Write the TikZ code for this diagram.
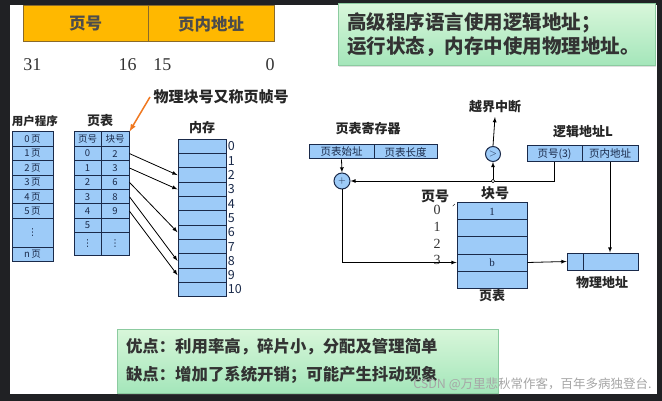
\documentclass[tikz,border=0pt]{standalone}
\usepackage{fontspec}
\setmainfont{Noto Sans CJK SC}
\newfontfamily\tms{Liberation Serif}
\newfontfamily\dejavu{DejaVu Sans}
\usetikzlibrary{shadows}
\definecolor{frame}{HTML}{202124}
\definecolor{cellblue}{HTML}{9DCBF8}
\definecolor{navy}{HTML}{1A2A4A}
\definecolor{boxorange}{HTML}{FFB800}
\definecolor{boxbrown}{HTML}{8A6A2A}
\definecolor{greenhi}{HTML}{D8F6DA}
\definecolor{greenlo}{HTML}{A4E6BA}
\definecolor{greenedge}{HTML}{8CCBA0}
\definecolor{arrowred}{HTML}{F07820}

\newcommand{\vdotsglyph}{{\dejavu ⋮}}

\tikzset{
  cell/.style={draw=navy, fill=cellblue, line width=1pt, inner sep=0pt, text=navy,
    font=\fontsize{9.5}{9.5}\selectfont},
  title/.style={font=\fontsize{13}{13}\selectfont\bfseries, text=black!85},
  hdr/.style={draw=boxbrown, fill=boxorange, line width=1pt, minimum height=36pt,
    font=\fontsize{16.5}{16.5}\selectfont\bfseries, text=black!70},
  note/.style={draw=greenedge, line width=0.8pt, top color=greenhi, bottom color=greenlo,
    drop shadow={opacity=0.25, shadow xshift=1pt, shadow yshift=-2pt},
    inner sep=9pt, align=left, text=black!80},
  opcirc/.style={circle, draw=navy, fill=cellblue, line width=1pt, inner sep=0pt,
    minimum size=15pt, text=navy},
  bitnum/.style={inner sep=0pt, font=\tms\fontsize{18}{18}\selectfont, text=black!80},
  memnum/.style={inner sep=1pt, font=\fontsize{12.5}{12.5}\selectfont, text=navy},
  rownum/.style={inner sep=0pt, font=\tms\fontsize{14}{14}\selectfont, text=black!80},
}

\begin{document}
\begin{tikzpicture}[x=1pt, y=-1pt, >=latex, thick]

% Rahmen des Bildschirmfotos
\fill[frame] (0,0) rectangle (662,401);
\fill[white] (10,5) rectangle (657,394);
\useasboundingbox (0,0) rectangle (662,401);

% logische Adresse mit Bitpositionen
\node[hdr, minimum width=125pt] (pgno) at (85.5,24) {页号};
\node[hdr, minimum width=126pt] (pgoff) at (211,24) {页内地址};
\node[bitnum, anchor=west] (b31) at (23,65) {31};
\node[bitnum, anchor=east] (b16) at (137,65) {16};
\node[bitnum, anchor=west] (b15) at (153,65) {15};
\node[bitnum, anchor=east] (b0) at (275,65) {0};

% Hinweise in gruenen Kaesten
\node[note, minimum width=317pt, minimum height=55pt, text width=299pt,
  font=\fontsize{19.5}{24}\selectfont\bfseries] (hint) at (496.5,34.5)
  {高级程序语言使用逻辑地址；\\运行状态，内存中使用物理地址。};
\node[note, minimum width=381pt, minimum height=64pt, text width=363pt,
  font=\fontsize{16.4}{28}\selectfont\bfseries] (proscons) at (307.5,361)
  {优点：利用率高，碎片小，分配及管理简单\\缺点：增加了系统开销；可能产生抖动现象};

% Benutzerprogramm
\node[title, font=\fontsize{11.5}{11.5}\selectfont\bfseries] (upl) at (35,121) {用户程序};
\foreach \i in {0,...,5}
  \node[cell, minimum width=41pt, minimum height=14.4pt] (up\i) at (32.5,{139.2+14.4*\i}) {\i\,页};
\node[cell, minimum width=41pt, minimum height=28.8pt] (updots) at (32.5,232.8) {\vdotsglyph};
\node[cell, minimum width=41pt, minimum height=14.4pt] (upn) at (32.5,254.4) {n\,页};

% Seitentabelle
\node[title] (ptl) at (100,121) {页表};
\node[cell, minimum width=27pt, minimum height=14.4pt] (pth1) at (87.5,139.2) {页号};
\node[cell, minimum width=28pt, minimum height=14.4pt] (pth2) at (115,139.2) {块号};
\foreach \i/\b in {0/2,1/3,2/6,3/8,4/9,5/{}} {
  \node[cell, minimum width=27pt, minimum height=14.4pt] (ptp\i) at (87.5,{153.6+14.4*\i}) {\i};
  \node[cell, minimum width=28pt, minimum height=14.4pt] (ptb\i) at (115,{153.6+14.4*\i}) {\b};
}
\node[cell, minimum width=27pt, minimum height=22.2pt] (ptpdots) at (87.5,243.9) {\vdotsglyph};
\node[cell, minimum width=28pt, minimum height=22.2pt] (ptbdots) at (115,243.9) {\vdotsglyph};

% Hauptspeicher
\node[title] (meml) at (202,128) {内存};
\foreach \i in {0,...,10} {
  \node[cell, minimum width=48pt, minimum height=14.3pt] (mem\i) at (202,{146.45+14.3*\i}) {};
  \node[memnum, anchor=west] (memn\i) at (mem\i.east) {\i};
}

% Zuordnung Seite -> Block
\foreach \i/\b in {0/2,1/3,2/6,3/8,4/9}
  \draw[->, line width=0.8pt] (ptb\i.east) -- (mem\b.west);

% Anmerkung zur Blocknummer
\node[title, anchor=west, font=\fontsize{15}{15}\selectfont\bfseries] (frameno) at (150,97) {物理块号又称页帧号};
\draw[->, arrowred, line width=1.5pt] (frameno.west) -- (pth2.north east);

% Adressumsetzung rechts
\node[title] (oob) at (495,107) {越界中断};
\node[title] (regl) at (368,129) {页表寄存器};
\node[cell, minimum width=65pt, minimum height=14pt, font=\fontsize{10.5}{10.5}\selectfont] (reg1) at (341.5,152) {页表始址};
\node[cell, minimum width=63pt, minimum height=14pt, font=\fontsize{10.5}{10.5}\selectfont] (reg2) at (405.5,152) {页表长度};
\node[opcirc] (cmp) at (493,154) {$>$};
\node[title] (lal) at (583,132) {逻辑地址L};
\node[cell, minimum width=55pt, minimum height=16pt, font=\fontsize{10.5}{10.5}\selectfont] (lpn) at (554.5,154) {页号(3)};
\node[cell, minimum width=56pt, minimum height=16pt, font=\fontsize{10.5}{10.5}\selectfont] (loff) at (610,154) {页内地址};
\node[opcirc, minimum size=16pt] (plus) at (342,181) {$+$};
\coordinate (junc) at (493,181);

\node[title, font=\fontsize{14}{14}\selectfont\bfseries] (pnl) at (435,196) {页号};
\node[title, font=\fontsize{14}{14}\selectfont\bfseries] (bnl) at (495,193) {块号};
\foreach \i/\t in {0/1,1/{},2/{},3/b,4/{}}
  \node[cell, minimum width=70pt, minimum height=17pt, font=\tms\fontsize{11}{11}\selectfont]
    (rpt\i) at (492,{211.5+17*\i}) {\t};
\foreach \i in {0,...,3}
  \node[rownum] (rpn\i) at (437,{210+16.8*\i}) {\i};
\draw[dashed, thin] (pnl.south east) -- (rpt0.north west);
\node[title] (rptl) at (492,296) {页表};

\node[cell, minimum width=16pt, minimum height=17pt] (pa1) at (575,261.5) {};
\node[cell, minimum width=55pt, minimum height=17pt] (pa2) at (610.5,261.5) {};
\node[title] (pal) at (602,283) {物理地址};

% Verbindungen
\draw[->] (reg1.south) -- (plus.north);
\draw[->] (lpn.south) |- (plus.east);
\draw[->] (junc) -- (cmp.south);
\draw[->] (cmp.north) -- (oob.south);
\draw[->] (plus.south) |- (rpt3.west);
\draw[->] (rpt3.east) -- (pa1.west);
\draw[->] (loff.south) -- (loff.south |- pa2.north);
\node[circle, draw, fill=white, inner sep=0pt, minimum size=3.5pt, line width=0.6pt] (juncdot) at (junc) {};

% Wasserzeichen
\node[anchor=east, inner sep=0pt, text=black!35, font=\fontsize{12.5}{12.5}\selectfont] (wm) at (652,384)
  {CSDN @万里悲秋常作客，百年多病独登台.};

\end{tikzpicture}
\end{document}
